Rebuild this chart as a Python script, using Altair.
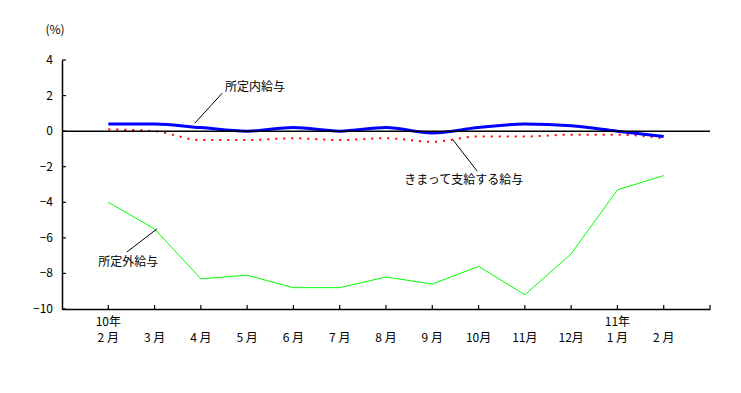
import altair as alt
import pandas as pd

months = ["2 月", "3 月", "4 月", "5 月", "6 月", "7 月", "8 月", "9 月", "10月", "11月", "12月", "1 月", "2 月"]
idx = list(range(len(months)))
shoteinai = [0.4, 0.4, 0.2, 0.0, 0.2, 0.0, 0.2, -0.1, 0.2, 0.4, 0.3, 0.0, -0.3]
kimatte = [0.1, 0.0, -0.5, -0.5, -0.4, -0.5, -0.4, -0.6, -0.3, -0.3, -0.2, -0.2, -0.4]
shoteigai = [-4.0, -5.5, -8.3, -8.1, -8.8, -8.8, -8.2, -8.6, -7.6, -9.2, -6.9, -3.3, -2.5]
years = [(0, "10年"), (11, "11年")]
y_ticks = [4, 2, 0, -2, -4, -6, -8, -10]

FONT = "Noto Sans CJK JP"
FS = 12
W, H = 648, 249

df = pd.DataFrame({"i": idx, "m": months, "a": shoteinai, "b": kimatte, "c": shoteigai})

xs = alt.Scale(domain=[-1, 13], nice=False, zero=False)
ys = alt.Scale(domain=[-10, 4], nice=False, zero=False)

base = alt.Chart(df)

axes = base.mark_point(opacity=0).encode(
    x=alt.X("i:Q", scale=xs, axis=alt.Axis(values=list(range(14)), labels=False, title=None)),
    y=alt.Y("a:Q", scale=ys, axis=alt.Axis(values=y_ticks, labels=False, title=None)),
)

def X(f):
    return alt.X(f, scale=xs, title=None)

def Y(f):
    return alt.Y(f, scale=ys, title=None)

zero = alt.Chart(pd.DataFrame({"y": [0]})).mark_rule(color="black", strokeWidth=1.5).encode(
    y=Y("y:Q"), x=alt.value(0), x2=alt.value(W))

xt = alt.Chart(pd.DataFrame({"t": list(range(14))})).mark_rule(color="black", strokeWidth=1.2).encode(
    x=X("t:Q"), y=alt.value(H), y2=alt.value(H - 4))
yt = alt.Chart(pd.DataFrame({"t": y_ticks})).mark_rule(color="black", strokeWidth=1.2).encode(
    y=Y("t:Q"), x=alt.value(0), x2=alt.value(4))

ylab = alt.Chart(pd.DataFrame({"t": y_ticks})).mark_text(
    font=FONT, fontSize=FS, color="black", align="right", baseline="middle").encode(
    y=Y("t:Q"), x=alt.value(-9), text="t:Q")

xlab = base.mark_text(font=FONT, fontSize=FS, color="black", align="center", baseline="middle").encode(
    x=X("i:Q"), y=alt.value(H + 29), text="m:N")

green = base.mark_line(color="#00ff00", strokeWidth=1).encode(x=X("i:Q"), y=Y("c:Q"))
red = base.mark_line(color="#ff0000", strokeWidth=2, strokeDash=[2, 6], interpolate="monotone").encode(
    x=X("i:Q"), y=Y("b:Q"))
blue = base.mark_line(color="#0000ff", strokeWidth=3, interpolate="monotone").encode(
    x=X("i:Q"), y=Y("a:Q"))

ydf = pd.DataFrame({"i": [p for p, _ in years], "t": [t for _, t in years]})
yrs = alt.Chart(ydf).mark_text(font=FONT, fontSize=FS, color="black", baseline="middle").encode(
    x=X("i:Q"), y=alt.value(H + 13), text="t:N")

pct = alt.Chart(pd.DataFrame({"t": ["(%)"]})).mark_text(font=FONT, fontSize=FS, color="black").encode(
    x=alt.value(-7), y=alt.value(-30), text="t:N")

# annotations
lab_df = pd.DataFrame({
    "x": [3.17, 7.68, 0.43],
    "y": [2.5, -2.75, -7.35],
    "t": ["所定内給与", "きまって支給する給与", "所定外給与"],
})
labels = alt.Chart(lab_df).mark_text(font=FONT, fontSize=FS, color="black", align="center").encode(
    x=X("x:Q"), y=Y("y:Q"), text="t:N")

con_df = pd.DataFrame({
    "x": [1.87, 7.45, 0.40],
    "y": [0.45, -0.5, -6.8],
    "x2": [2.46, 7.97, 1.05],
    "y2": [2.13, -2.25, -5.5],
})
connectors = alt.Chart(con_df).mark_rule(color="black", strokeWidth=1).encode(
    x=X("x:Q"), y=Y("y:Q"), x2="x2:Q", y2="y2:Q")

chart = alt.layer(axes, green, red, blue, zero, xt, yt, ylab, xlab, yrs, pct, labels, connectors).properties(
    width=W, height=H,
    autosize=alt.AutoSizeParams(type="none"),
    padding={"left": 54, "top": 52, "right": 10, "bottom": 60},
    background="white",
).configure_view(stroke=None).configure_axis(
    ticks=False, grid=False, domainColor="black", domainWidth=1.5,
)

chart.save("out.html", embed_options={"renderer": "svg", "actions": False})
